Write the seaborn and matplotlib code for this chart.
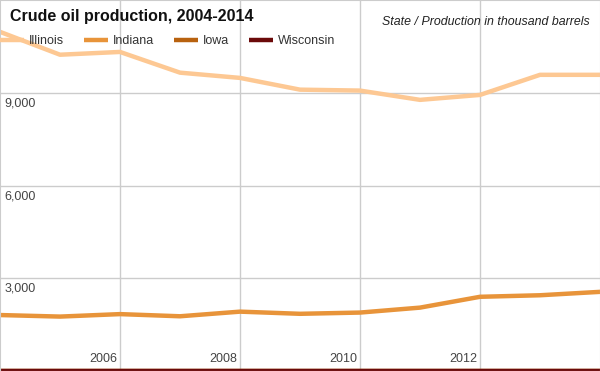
import numpy as np
import pandas as pd
import matplotlib
matplotlib.use("Agg")
import matplotlib.pyplot as plt
import matplotlib.transforms as mtransforms
import seaborn as sns

# data (thousand barrels)
years = list(range(2004, 2015))
illinois = [10970, 10230, 10320, 9650, 9480, 9100, 9070, 8770, 8930, 9580, 9580]
indiana = [1810, 1760, 1840, 1770, 1920, 1850, 1890, 2050, 2400, 2450, 2560]
iowa = [0] * len(years)
wisconsin = [0] * len(years)

states = ["Illinois", "Indiana", "Iowa", "Wisconsin"]
colors = ["#fdc893", "#e8943a", "#b8620f", "#6b0a0a"]
y_ticks = [3000, 6000, 9000]
x_ticks = [2006, 2008, 2010, 2012]

df = pd.DataFrame({
    "year": years * 4,
    "production": illinois + indiana + iowa + wisconsin,
    "state": sum([[s] * len(years) for s in states], []),
})

sns.set_style("white")
plt.rcParams["font.family"] = ["Liberation Sans", "DejaVu Sans"]

fig = plt.figure(figsize=(6, 3.71), dpi=100)
ax = fig.add_axes([0, 0, 1, 1])

sns.lineplot(data=df, x="year", y="production", hue="state",
             hue_order=states, palette=colors, linewidth=3.2, ax=ax,
             legend=False)

ax.set_xlim(2004, 2014)
ax.set_ylim(0, 12000)
ax.set_xticks(x_ticks)
ax.set_yticks(y_ticks)
ax.grid(True, color="#cccccc", linewidth=1)
ax.set_axisbelow(True)
ax.set_xticklabels([])
ax.set_yticklabels([])
ax.tick_params(length=0)
ax.set_xlabel("")
ax.set_ylabel("")
for sp in ax.spines.values():
    sp.set_color("#cccccc")

# tick labels drawn inside the plot area
ytr = mtransforms.blended_transform_factory(ax.transAxes, ax.transData)
for v in y_ticks:
    ax.text(0.008, v - 150, f"{v:,}", transform=ytr, ha="left", va="top",
            fontsize=9, color="#444444")
xtr = mtransforms.blended_transform_factory(ax.transData, ax.transAxes)
for v in x_ticks:
    ax.text(v - 0.05, 0.017, str(v), transform=xtr, ha="right", va="bottom",
            fontsize=9, color="#444444")

fig.text(0.017, 0.955, "Crude oil production, 2004-2014", fontsize=11.5,
         fontweight="bold", ha="left", va="center", color="#111111")
fig.text(0.983, 0.94, "State / Production in thousand barrels", fontsize=8.9,
         style="italic", ha="right", va="center", color="#222222")

handles = [plt.Line2D([], [], color=c, linewidth=3.2, solid_capstyle="butt")
           for c in colors]
ax.legend(handles, states, loc="upper left", bbox_to_anchor=(-0.018, 0.935),
          ncol=4, frameon=False, fontsize=9, handlelength=1.9,
          handletextpad=0.4, columnspacing=1.6, labelcolor="#333333")

fig.savefig("out.png", dpi=100)
